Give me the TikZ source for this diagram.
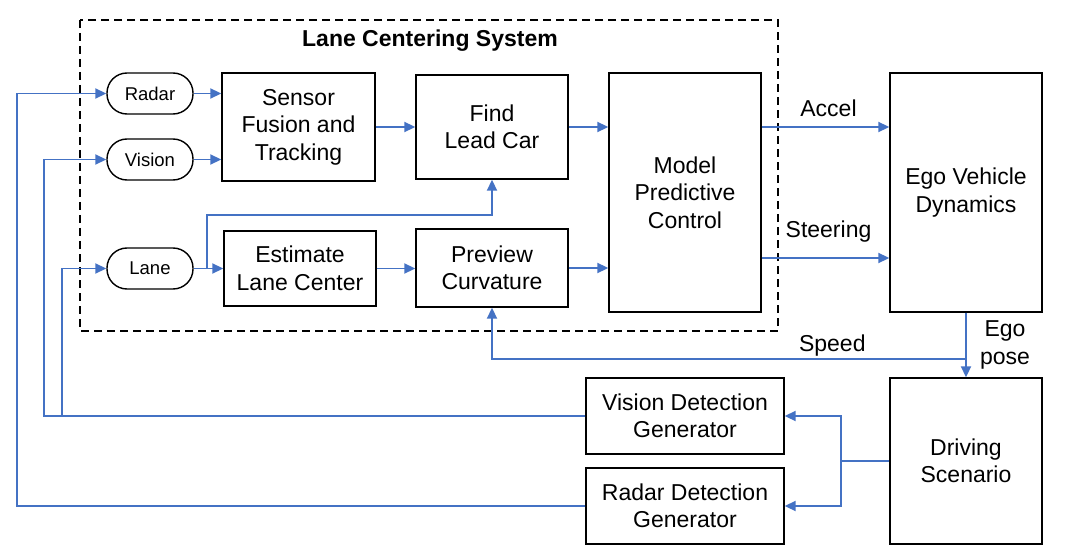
\documentclass[tikz,border=0pt]{standalone}
\usepackage{fontspec}
\setmainfont{Liberation Sans}
\usetikzlibrary{arrows.meta,calc}
\definecolor{lineblue}{HTML}{4472C4}
\tikzset{
 blk/.style={draw=black, line width=1.4pt, inner sep=0pt, align=center, font=\fontsize{23}{27.5}\selectfont},
 pill/.style={draw=black, line width=1.4pt, rounded corners=20pt, minimum width=86pt, minimum height=41pt, inner sep=0pt, font=\fontsize{18.5}{22}\selectfont},
 conn/.style={draw=lineblue, line width=1.9pt},
 arr/.style={conn, -{Triangle[length=11pt,width=10pt]}},
 lbl/.style={font=\fontsize{23}{28}\selectfont, inner sep=0pt, align=center},
 sysbox/.style={draw=black, line width=1.4pt, dash pattern=on 8pt off 5pt},
}
\begin{document}
\begin{tikzpicture}[x=1pt,y=-1pt]
\useasboundingbox (0,0) rectangle (1068,556);
% system boundary
\draw[sysbox] (80,20) rectangle (778,331);
\node[font=\bfseries\fontsize{23}{27}\selectfont] (title) at (430,41) {Lane Centering System};
% sensor pills
\node[pill] (radar) at (150,93.5) {Radar};
\node[pill] (vision) at (150,159.5) {Vision};
\node[pill] (lane) at (150,268.5) {Lane};
% blocks
\node[blk, minimum width=153pt, minimum height=108pt] (sf) at (298.5,127) {Sensor\\Fusion and\\Tracking};
\node[blk, minimum width=152pt, minimum height=75pt] (elc) at (300,268.5) {Estimate\\Lane Center};
\node[blk, minimum width=152pt, minimum height=104pt] (flc) at (492,127) {Find\\Lead Car};
\node[blk, minimum width=152pt, minimum height=78pt] (pc) at (492,268) {Preview\\Curvature};
\node[blk, minimum width=152pt, minimum height=239pt] (mpc) at (685,192.5) {Model\\Predictive\\Control};
\node[blk, minimum width=152pt, minimum height=239pt] (ego) at (966,192.5) {Ego Vehicle\\Dynamics};
\node[blk, minimum width=152pt, minimum height=166pt] (ds) at (966,461) {Driving\\Scenario};
\node[blk, minimum width=198pt, minimum height=76pt] (vdg) at (685,416) {Vision Detection\\Generator};
\node[blk, minimum width=198pt, minimum height=76pt] (rdg) at (685,506) {Radar Detection\\Generator};
% feedback from generators
\draw[arr] (rdg.west) -- ++(-568,0) |- (radar.west);
\draw[arr] (vdg.west) -- ++(-541,0) |- (vision.west);
\coordinate (lj) at (62,416);
\draw[arr] (lj) |- (lane.west);
% inside system
\draw[arr] (radar.east) -- (radar.east -| sf.west);
\draw[arr] (vision.east) -- (vision.east -| sf.west);
\draw[arr] (sf.east) -- (sf.east -| flc.west);
\draw[arr] (lane.east) -- (lane.east -| elc.west);
\draw[arr] ([xshift=13pt]lane.east) |- ([yshift=-35pt]flc.south) -- (flc.south);
\draw[arr] (elc.east) -- (elc.east -| pc.west);
\draw[arr] (flc.east) -- (flc.east -| mpc.west);
\draw[arr] (pc.east) -- (pc.east -| mpc.west);
% to ego vehicle
\draw[arr] ([yshift=65.5pt]mpc.east) -- ([yshift=65.5pt]ego.west) node[lbl, midway, xshift=3pt, yshift=19pt] {Accel};
\draw[arr] ([yshift=-65.5pt]mpc.east) -- ([yshift=-65.5pt]ego.west) node[lbl, midway, xshift=3pt, yshift=26pt] {Steering};
% ego pose and speed
\draw[arr] (ego.south) -- (ds.north) node[lbl, midway, xshift=39pt] {Ego\\pose};
\coordinate (sp) at ([yshift=-46pt]ego.south);
\draw[arr] (sp) -| (pc.south) node[lbl, pos=0.141, yshift=13pt] {Speed};
% scenario to generators
\coordinate (br) at (841,461);
\draw[conn] (ds.west) -- (br);
\draw[arr] (br) |- (vdg.east);
\draw[arr] (br) |- (rdg.east);
\end{tikzpicture}
\end{document}
